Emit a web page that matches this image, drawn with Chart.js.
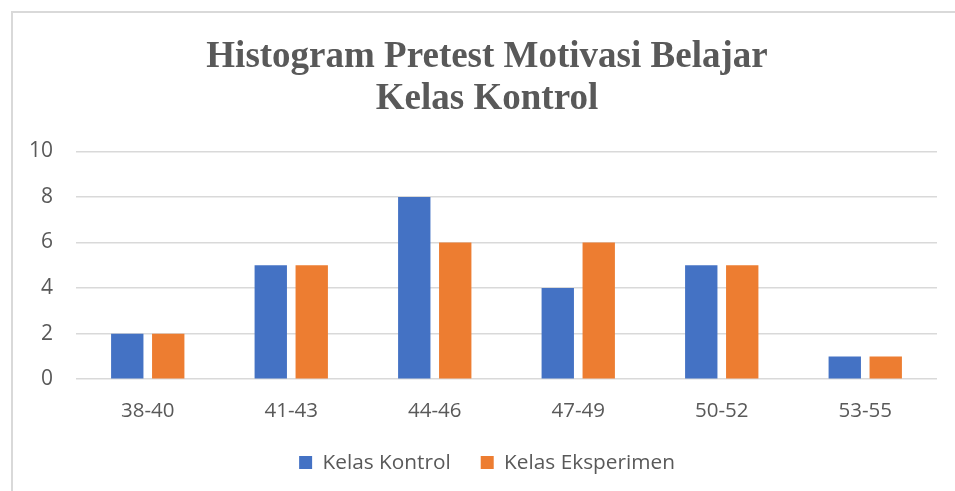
<!DOCTYPE html>
<html>
<head>
<meta charset="utf-8">
<script src="https://cdn.jsdelivr.net/npm/chart.js@4/dist/chart.umd.min.js"></script>
<style>
  html, body { margin: 0; padding: 0; background: #ffffff; overflow: hidden; }
  #frame { position: absolute; left: 11px; top: 11px; width: 1000px; height: 600px; border: 2px solid #d9d9d9; box-sizing: border-box; }
  #wrap { position: absolute; left: 0; top: 0; width: 955px; height: 491px; }
</style>
</head>
<body>
<div id="frame"></div>
<div id="wrap"><canvas id="c" width="955" height="491"></canvas></div>
<script>
const categories = ["38-40", "41-43", "44-46", "47-49", "50-52", "53-55"];
const kelasKontrol = [2, 5, 8, 4, 5, 1];
const kelasEksperimen = [2, 5, 6, 6, 5, 1];
const seriesNames = ["Kelas Kontrol", "Kelas Eksperimen"];
const titleLines = ["Histogram Pretest Motivasi Belajar", "Kelas Kontrol"];
const yTicks = { min: 0, max: 10, step: 2 };

const textColor = "#595959";
const sansFont = "'Open Sans', sans-serif";

new Chart(document.getElementById("c"), {
  type: "bar",
  data: {
    labels: categories,
    datasets: [
      { label: seriesNames[0], data: kelasKontrol, backgroundColor: "#4472C4", borderWidth: 0,
        categoryPercentage: 0.571, barPercentage: 0.79 },
      { label: seriesNames[1], data: kelasEksperimen, backgroundColor: "#ED7D31", borderWidth: 0,
        categoryPercentage: 0.571, barPercentage: 0.79 }
    ]
  },
  options: {
    responsive: false,
    animation: false,
    devicePixelRatio: 1,
    layout: { padding: { left: 37, right: 18, top: 13, bottom: 8 } },
    plugins: {
      title: {
        display: true,
        text: titleLines,
        color: textColor,
        font: { family: "'Liberation Serif', 'Times New Roman', serif", size: 37, weight: "bold", lineHeight: 1.14 },
        padding: { top: 23, bottom: 31 }
      },
      legend: {
        display: true,
        position: "bottom",
        labels: {
          color: textColor,
          font: { family: sansFont, size: 20.8 },
          boxWidth: 13,
          boxHeight: 13,
          padding: 30
        }
      },
      tooltip: { enabled: false }
    },
    scales: {
      x: {
        grid: { display: false, drawTicks: false },
        border: { display: false },
        ticks: { color: textColor, font: { family: sansFont, size: 20.5 }, padding: 20 },
        afterFit: (s) => { s.height = 43; }
      },
      y: {
        min: yTicks.min,
        max: yTicks.max,
        grid: { color: "#d9d9d9", lineWidth: 1.5, drawTicks: false },
        border: { display: false },
        ticks: { stepSize: yTicks.step, color: textColor, font: { family: sansFont, size: 21 },
                 mirror: true, crossAlign: "far", padding: -47 },
        afterFit: (s) => { s.width = 39; }
      }
    }
  }
});
</script>
</body>
</html>
